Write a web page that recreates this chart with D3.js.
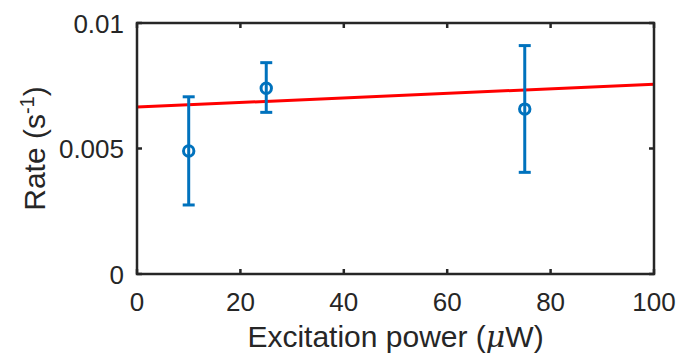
<!DOCTYPE html>
<html>
<head>
<meta charset="utf-8">
<script src="https://cdn.jsdelivr.net/npm/d3@7"></script>
<style>
  body { margin: 0; background: #fff; }
  svg { display: block; font-family: "Liberation Sans", Arial, sans-serif; }
</style>
</head>
<body>
<div id="app"></div>
<script>
const powers = [10, 25, 75];
const rates = [0.0049, 0.0074, 0.00657];
const errLow = [0.00275, 0.00644, 0.00405];
const errHigh = [0.00706, 0.00842, 0.0091];
const fitX = [0, 100];
const fitY = [0.00665, 0.00756];
const xTicks = [0, 20, 40, 60, 80, 100];
const yTicks = [0, 0.005, 0.01];
const yTickLabels = ['0', '0.005', '0.01'];

const width = 680;
const height = 354;
const padL = 137, padR = 654, padT = 23, padB = 274;
const axisColor = '#262626';
const blue = '#0072BD';

const svg = d3.select('#app')
  .append('svg')
  .attr('width', width)
  .attr('height', height);

const x = d3.scaleLinear().domain([0, 100]).range([padL, padR]);
const y = d3.scaleLinear().domain([0, 0.01]).range([padB, padT]);

// fit line (under markers)
svg.append('line')
  .attr('x1', x(fitX[0])).attr('y1', y(fitY[0]))
  .attr('x2', x(fitX[1])).attr('y2', y(fitY[1]))
  .attr('stroke', '#ff0000')
  .attr('stroke-width', 3);

// error bars
const pts = powers.map((p, i) => ({ p, r: rates[i], lo: errLow[i], hi: errHigh[i] }));
const g = svg.append('g').attr('stroke', blue).attr('stroke-width', 3).attr('fill', 'none');
g.selectAll('.bar').data(pts).enter().append('line')
  .attr('x1', d => x(d.p)).attr('x2', d => x(d.p))
  .attr('y1', d => y(d.lo)).attr('y2', d => y(d.hi));
g.selectAll('.capHi').data(pts).enter().append('line')
  .attr('x1', d => x(d.p) - 6).attr('x2', d => x(d.p) + 6)
  .attr('y1', d => y(d.hi)).attr('y2', d => y(d.hi));
g.selectAll('.capLo').data(pts).enter().append('line')
  .attr('x1', d => x(d.p) - 6).attr('x2', d => x(d.p) + 6)
  .attr('y1', d => y(d.lo)).attr('y2', d => y(d.lo));
g.selectAll('circle').data(pts).enter().append('circle')
  .attr('cx', d => x(d.p)).attr('cy', d => y(d.r))
  .attr('r', 5.2);

// axes box and ticks
const axes = svg.append('g').attr('stroke', axisColor).attr('stroke-width', 2.5);
axes.append('rect')
  .attr('x', padL).attr('y', padT)
  .attr('width', padR - padL).attr('height', padB - padT)
  .attr('fill', 'none');

const tickLen = 5;
xTicks.forEach(t => {
  axes.append('line').attr('x1', x(t)).attr('x2', x(t)).attr('y1', padB).attr('y2', padB - tickLen);
  axes.append('line').attr('x1', x(t)).attr('x2', x(t)).attr('y1', padT).attr('y2', padT + tickLen);
});
yTicks.forEach(t => {
  axes.append('line').attr('x1', padL).attr('x2', padL + tickLen).attr('y1', y(t)).attr('y2', y(t));
  axes.append('line').attr('x1', padR).attr('x2', padR - tickLen).attr('y1', y(t)).attr('y2', y(t));
});

// tick labels
svg.selectAll('.xt').data(xTicks).enter().append('text')
  .attr('x', d => x(d)).attr('y', padB + 37)
  .attr('text-anchor', 'middle')
  .attr('font-size', 26)
  .attr('fill', axisColor)
  .text(d => d);

svg.selectAll('.yt').data(yTicks).enter().append('text')
  .attr('x', padL - 13).attr('y', d => y(d) + 9.5)
  .attr('text-anchor', 'end')
  .attr('font-size', 26)
  .attr('fill', axisColor)
  .text((d, i) => yTickLabels[i]);

// axis labels
const xl = svg.append('text')
  .attr('x', (padL + padR) / 2).attr('y', 347)
  .attr('text-anchor', 'middle')
  .attr('font-size', 30)
  .attr('fill', axisColor);
xl.append('tspan').text('Excitation power (');
xl.append('tspan').attr('font-style', 'italic').attr('font-family', 'DejaVu Serif, serif').text('\u03BC');
xl.append('tspan').text('W)');

const yl = svg.append('text')
  .attr('transform', `translate(45, ${(padT + padB) / 2}) rotate(-90)`)
  .attr('text-anchor', 'middle')
  .attr('font-size', 30)
  .attr('fill', axisColor);
yl.append('tspan').text('Rate (s');
yl.append('tspan').attr('font-size', 20).attr('dy', -11).text('-1');
yl.append('tspan').attr('dy', 11).text(')');
</script>
</body>
</html>
